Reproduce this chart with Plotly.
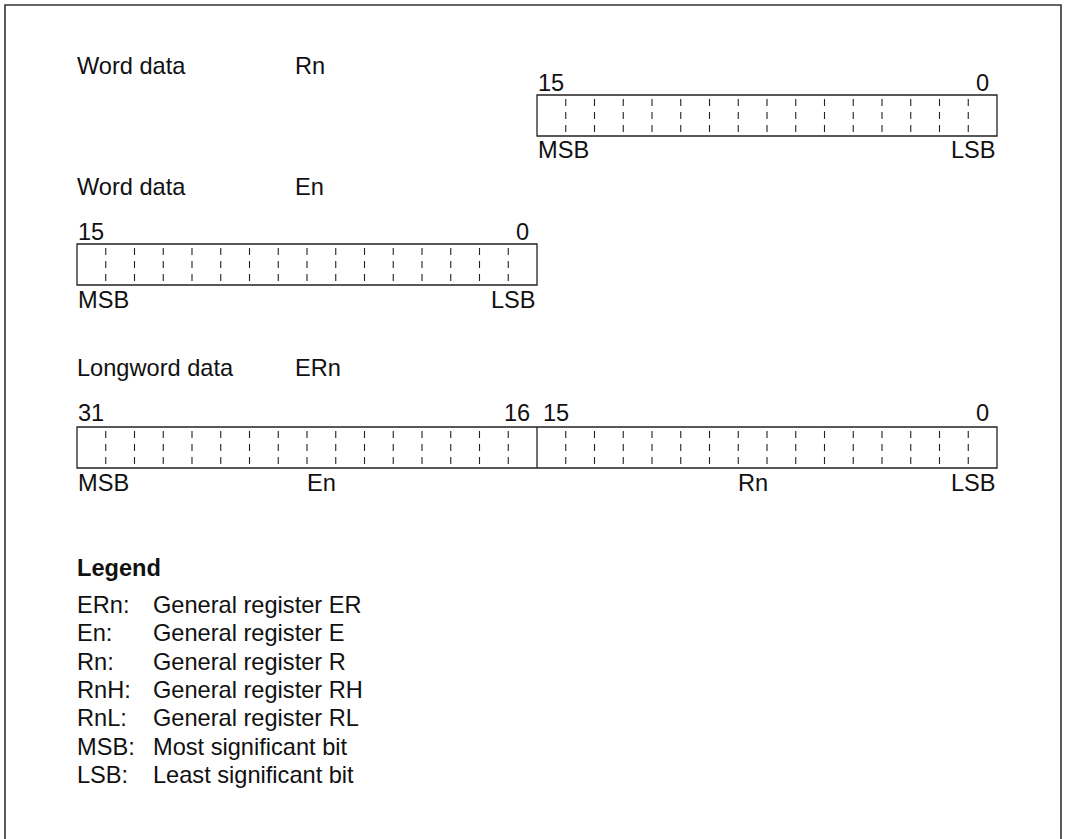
import plotly.graph_objects as go

# ---------------- data ----------------
word_rn_title = ["Word data", "Rn"]
word_en_title = ["Word data", "En"]
long_title = ["Longword data", "ERn"]
word_bits = [15, 0]
long_bits = [31, 16, 15, 0]
end_labels = ["MSB", "LSB"]
long_sub_labels = ["En", "Rn"]
long_sub_cells = [8, 23]
legend_title = "Legend"
legend_keys = ["ERn:", "En:", "Rn:", "RnH:", "RnL:", "MSB:", "LSB:"]
legend_desc = ["General register ER", "General register E", "General register R",
               "General register RH", "General register RL",
               "Most significant bit", "Least significant bit"]
bits_per_word = 16

# ---------------- layout constants ----------------
W, H = 1066, 839
CELL = 460 / 16
BOX_H = 41
FONT = "Liberation Sans, Arial, sans-serif"
FS = 23.6
TXT = "#111111"
LINE = "#222222"

fig = go.Figure()
shapes = []
ann = []


def text(x, y, s, xa="left", bold=False, size=FS):
    ann.append(dict(x=x, y=y, xref="x", yref="y", text=f"<b>{s}</b>" if bold else s,
                    showarrow=False, xanchor=xa, yanchor="middle",
                    font=dict(family=FONT, size=size, color=TXT)))


def register(x0, top, nbits, labels, bit_cells, solid_at=None, num_gap=12, end_gap=15):
    x1 = x0 + nbits * CELL
    bot = top + BOX_H
    shapes.append(dict(type="rect", xref="x", yref="y", x0=x0, x1=x1, y0=top, y1=bot,
                       line=dict(color=LINE, width=1.3)))
    for i in range(1, nbits):
        xx = x0 + i * CELL
        if solid_at is not None and i == solid_at:
            shapes.append(dict(type="line", xref="x", yref="y", x0=xx, x1=xx, y0=top, y1=bot,
                               line=dict(color=LINE, width=1.3)))
        else:
            fig.add_trace(go.Scatter(x=[xx, xx], y=[top + 4, bot - 3], mode="lines",
                                     line=dict(color=LINE, width=1.1, dash="7px,6px"),
                                     hoverinfo="skip", showlegend=False))
    for lab, c in zip(labels, bit_cells):
        if solid_at is not None and c == solid_at - 1:
            text(x0 + solid_at * CELL - 5, top - num_gap, str(lab), xa="right")
        elif solid_at is not None and c == solid_at:
            text(x0 + solid_at * CELL + 4, top - num_gap, str(lab), xa="left")
        else:
            text(x0 + (c + 0.5) * CELL, top - num_gap, str(lab), xa="center")
    text(x0 - 1, bot + end_gap, end_labels[0], xa="left")
    text(x1 + 1, bot + end_gap, end_labels[1], xa="right")
    return x1, bot


# outer frame (top, left, right)
shapes.append(dict(type="path", xref="x", yref="y",
                   path=f"M 5 {H + 10} L 5 5 L 1061 5 L 1061 {H + 10}",
                   line=dict(color="#333333", width=1.6)))

TITLE_X, NAME_X = 75, 293

# Word data Rn
text(TITLE_X, 66, word_rn_title[0]); text(NAME_X, 66, word_rn_title[1])
register(537, 95, bits_per_word, word_bits, [0, bits_per_word - 1], num_gap=12, end_gap=14)

# Word data En
text(TITLE_X, 187, word_en_title[0]); text(NAME_X, 187, word_en_title[1])
register(77, 244, bits_per_word, word_bits, [0, bits_per_word - 1], num_gap=12, end_gap=15)

# Longword data ERn
text(TITLE_X, 368, long_title[0]); text(NAME_X, 368, long_title[1])
x1, bot = register(77, 427, 2 * bits_per_word, long_bits,
                   [0, bits_per_word - 1, bits_per_word, 2 * bits_per_word - 1],
                   solid_at=bits_per_word, num_gap=14, end_gap=15)
for lab, c in zip(long_sub_labels, long_sub_cells):
    text(77 + (c + 0.5) * CELL, bot + 15, lab, xa="center")

# Legend
text(TITLE_X, 568, legend_title, bold=True)
for i, (k, d) in enumerate(zip(legend_keys, legend_desc)):
    y = 605 + i * 28.3
    text(TITLE_X, y, k)
    text(151, y, d)

fig.update_layout(
    width=W, height=H, margin=dict(l=0, r=0, t=0, b=0),
    paper_bgcolor="white", plot_bgcolor="white",
    xaxis=dict(range=[0, W], visible=False, fixedrange=True),
    yaxis=dict(range=[H, 0], visible=False, fixedrange=True),
    shapes=shapes, annotations=ann, showlegend=False,
)
fig.write_html("out.html", config={"displayModeBar": False},
               post_script="document.body.style.margin='0';document.body.style.overflow='hidden';")
